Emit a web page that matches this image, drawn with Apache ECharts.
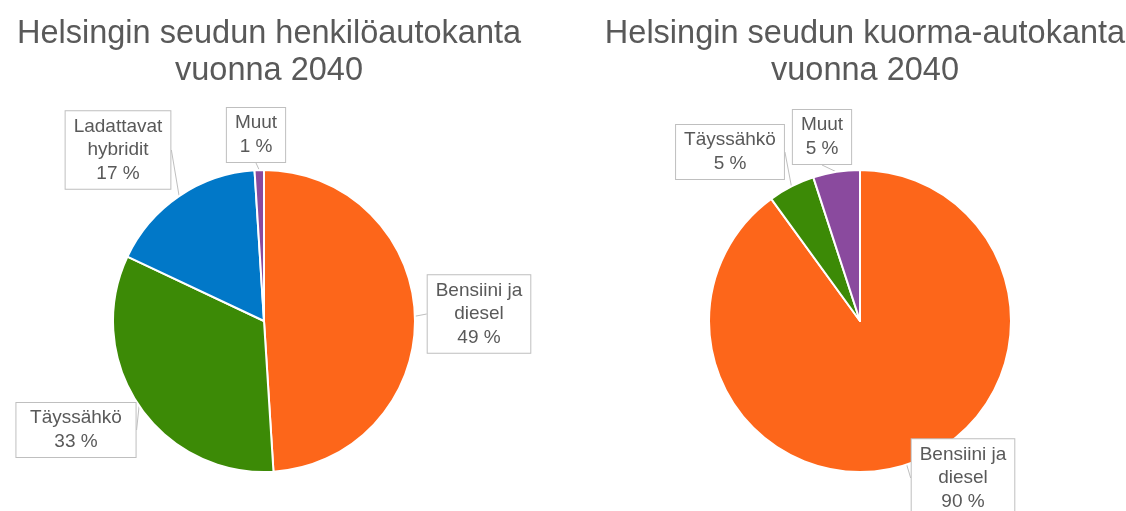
<!DOCTYPE html>
<html>
<head>
<meta charset="utf-8">
<script src="https://cdn.jsdelivr.net/npm/echarts@6/dist/echarts.min.js"></script>
<style>
  html, body { margin: 0; padding: 0; background: #fff; }
  #chart { width: 1126px; height: 511px; }
</style>
</head>
<body>
<div id="chart"></div>
<script>
// data
const carCategories = ['Bensiini ja\ndiesel', 'Täyssähkö', 'Ladattavat\nhybridit', 'Muut']
const carValues = [49, 33, 17, 1]
const truckCategories = ['Bensiini ja\ndiesel', 'Täyssähkö', 'Muut']
const truckValues = [90, 5, 5]

const colorMap = {
  'Bensiini ja\ndiesel': '#FD661A',
  'Täyssähkö': '#3C8A06',
  'Ladattavat\nhybridit': '#0178C8',
  'Muut': '#8A4A9E'
}

// label box centres (layout only)
const carLabelPos = [[479, 314], [76, 430], [118, 150], [256, 135]]
const truckLabelPos = [[963, 478], [730, 152], [822, 137]]

const fontFamily = '"Liberation Sans", Arial, sans-serif'

function buildData(cats, vals) {
  return cats.map((c, i) => ({ name: c, value: vals[i], itemStyle: { color: colorMap[c] } }))
}

function pieSeries(cats, vals, center, pos) {
  return {
    type: 'pie',
    center: center,
    radius: 151,
    startAngle: 90,
    clockwise: true,
    animation: false,
    itemStyle: { borderColor: '#fff', borderWidth: 2 },
    label: {
      show: true,
      formatter: '{b}\n{c} %',
      color: '#595959',
      fontSize: 19,
      fontFamily: fontFamily,
      lineHeight: 23.5,
      align: 'center',
      overflow: 'none',
      backgroundColor: '#fff',
      borderColor: '#BFBFBF',
      borderWidth: 1,
      padding: [4, 8, 3, 8]
    },
    labelLine: {
      show: true,
      length: 6,
      length2: 0,
      lineStyle: { color: '#BFBFBF', width: 1 }
    },
    labelLayout: function (params) {
      const p = pos[params.dataIndex]
      return { x: p[0], y: p[1], align: 'center', verticalAlign: 'middle' }
    },
    emphasis: { disabled: true },
    data: buildData(cats, vals)
  }
}

const myChart = echarts.init(document.getElementById('chart'))

const titleStyle = { fontSize: 32.5, fontWeight: 'normal', color: '#595959', fontFamily: fontFamily, lineHeight: 37 }

const option = {
  backgroundColor: '#fff',
  title: [
    {
      text: 'Helsingin seudun henkilöautokanta\nvuonna 2040',
      left: 264,
      top: 11,
      textAlign: 'center',
      textStyle: titleStyle
    },
    {
      text: 'Helsingin seudun kuorma-autokanta\nvuonna 2040',
      left: 860,
      top: 11,
      textAlign: 'center',
      textStyle: titleStyle
    }
  ],
  series: [
    pieSeries(carCategories, carValues, [264, 321], carLabelPos),
    pieSeries(truckCategories, truckValues, [860, 321], truckLabelPos)
  ]
}

myChart.setOption(option)
</script>
</body>
</html>
